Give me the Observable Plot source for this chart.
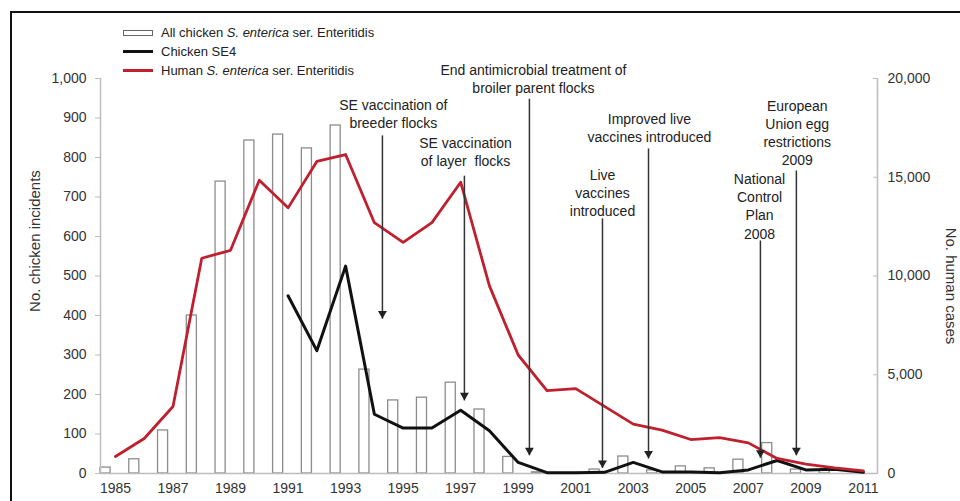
<!DOCTYPE html>
<html>
<head>
<meta charset="utf-8">
<script src="https://cdn.jsdelivr.net/npm/d3@7"></script>
<script src="https://cdn.jsdelivr.net/npm/@observablehq/plot@0.6"></script>
<style>
  body { margin: 0; background: #fff; font-family: "Liberation Sans", Arial, sans-serif; }
  #wrap { position: relative; width: 960px; height: 501px; overflow: hidden; background: #fff; }
  #chart { position: absolute; left: 0; top: 0; }
  #frame { position: absolute; left: 10px; top: 11px; width: 1000px; height: 600px;
           border-left: 2px solid #111; border-top: 2px solid #111; pointer-events: none; }
  #legend { position: absolute; left: 123px; top: 23px; font-size: 13px; color: #222; }
  .row { display: flex; align-items: center; height: 19px; white-space: nowrap; }
  .sw { width: 30px; margin-right: 8px; box-sizing: border-box; }
  .sw.bar { height: 6px; border: 1.3px solid #666; background: #fff; }
  .sw.line { height: 3px; }
</style>
</head>
<body>
<div id="wrap">
  <div id="chart"></div>
  <div id="legend">
    <div class="row"><div class="sw bar"></div><span>All chicken <i>S. enterica</i> ser. Enteritidis</span></div>
    <div class="row"><div class="sw line" style="background:#111"></div><span>Chicken SE4</span></div>
    <div class="row"><div class="sw line" style="background:#c0202e"></div><span>Human <i>S. enterica</i> ser. Enteritidis</span></div>
  </div>
  <div id="frame"></div>
</div>
<script>
// ---- data ----
const years = [1985, 1986, 1987, 1988, 1989, 1990, 1991, 1992, 1993, 1994, 1995, 1996, 1997, 1998,
               1999, 2000, 2001, 2002, 2003, 2004, 2005, 2006, 2007, 2008, 2009, 2010, 2011];
// All chicken S. enterica ser. Enteritidis incidents (left axis)
const chickenAll = [15, 36, 109, 400, 739, 843, 858, 823, 881, 263, 185, 192, 230, 162,
                    42, 3, 0, 10, 43, 8, 18, 13, 35, 77, 10, 8, 0];
// Chicken SE4 incidents (left axis)
const chickenSE4 = [null, null, null, null, null, null, 450, 311, 525, 150, 115, 115, 160, 108,
                    28, 2, 2, 3, 28, 4, 4, 2, 9, 33, 9, 11, 3];
// Human S. enterica ser. Enteritidis cases (right axis)
const humanCases = [860, 1770, 3390, 10900, 11300, 14850, 13450, 15800, 16150, 12700, 11700, 12700, 14750, 9500,
                    6000, 4200, 4300, 3400, 2500, 2200, 1720, 1820, 1550, 760, 480, 280, 130];

const xTickLabels = [1985, 1987, 1989, 1991, 1993, 1995, 1997, 1999, 2001, 2003, 2005, 2007, 2009, 2011];
const leftTicks = [0, 100, 200, 300, 400, 500, 600, 700, 800, 900, 1000];
const rightTickLabels = [0, 5000, 10000, 15000, 20000];
const humanPerIncident = 20; // 20,000 human cases on the right axis = 1,000 incidents on the left

const annotations = [
  {label: "SE vaccination of\nbreeder flocks", x: 1994.28, top: 856, tip: 392, tx: 1994.66, ty: 911},
  {label: "SE vaccination\nof layer  flocks", x: 1997.13, top: 754, tip: 185, tx: 1997.17, ty: 816},
  {label: "End antimicrobial treatment of\nbroiler parent flocks", x: 1999.39, top: 949, tip: 46, tx: 1999.53, ty: 1001},
  {label: "Live\nvaccines\nintroduced", x: 2001.93, top: 646, tip: 14, tx: 2001.93, ty: 713},
  {label: "Improved live\nvaccines introduced", x: 2003.53, top: 823, tip: 38, tx: 2003.56, ty: 877},
  {label: "National\nControl\nPlan\n2008", x: 2007.42, top: 590, tip: 40, tx: 2007.39, ty: 678},
  {label: "European\nUnion egg\nrestrictions\n2009", x: 2008.67, top: 767, tip: 46, tx: 2008.70, ty: 865}
];

const table = years.map((year, i) => ({year, all: chickenAll[i], se4: chickenSE4[i], human: humanCases[i]}));
const xDomain = [1984.48, 2011.49];
const font = '"Liberation Sans", Arial, sans-serif';

const chart = Plot.plot({
  width: 960,
  height: 501,
  marginLeft: 100,
  marginRight: 83,
  marginTop: 78,
  marginBottom: 28,
  style: {fontFamily: font, fontSize: "14px", color: "#333", background: "transparent"},
  x: {domain: xDomain},
  y: {domain: [0, 1000]},
  marks: [
    Plot.rect(table, {x1: d => d.year - 0.52, x2: d => d.year - 0.17, y1: 0, y2: "all",
                      fill: "white", stroke: "#8c8c8c", strokeWidth: 1.3}),
    Plot.ruleY([0], {stroke: "#bdbdbd", strokeWidth: 1.5}),
    Plot.ruleX(xDomain, {stroke: "#bdbdbd", strokeWidth: 1.5}),
    Plot.axisY({anchor: "left", ticks: leftTicks, tickFormat: d3.format(","), tickSize: 5, tickPadding: 9,
                stroke: "#bdbdbd", fill: "#333", label: null}),
    Plot.axisY({anchor: "right", ticks: rightTickLabels.map(v => v / humanPerIncident),
                tickFormat: d => d3.format(",")(d * humanPerIncident), tickSize: -5, tickPadding: 15,
                stroke: "#bdbdbd", fill: "#333", label: null}),
    Plot.axisX({anchor: "bottom", ticks: xTickLabels, tickFormat: d => String(d), tickSize: 0, tickPadding: 10,
                fill: "#333", label: null}),
    Plot.line(table, {x: "year", y: "se4", stroke: "#111", strokeWidth: 3, strokeLinejoin: "round"}),
    Plot.line(table, {x: "year", y: d => d.human / humanPerIncident, stroke: "#c0202e", strokeWidth: 2.8,
                      strokeLinejoin: "round"}),
    Plot.link(annotations, {x1: "x", x2: "x", y1: "top", y2: "tip", stroke: "#333", strokeWidth: 1.5}),
    Plot.dot(annotations, {x: "x", y: "tip", symbol: "triangle", r: 3.3, rotate: 180, fill: "#222",
                           stroke: "none", dy: -5}),
    Plot.text(annotations, {x: "tx", y: "ty", text: "label", textAnchor: "middle", lineAnchor: "middle",
                            lineHeight: 1.29, fontSize: 14, fill: "#222"}),
    Plot.text(["No. chicken incidents"], {frameAnchor: "left", dx: -65, dy: -35, rotate: -90,
                                          textAnchor: "middle", lineAnchor: "middle", fontSize: 15, fill: "#333"}),
    Plot.text(["No. human cases"], {frameAnchor: "right", dx: 73, dy: 10, rotate: 90,
                                    textAnchor: "middle", lineAnchor: "middle", fontSize: 15, fill: "#333"})
  ]
});
document.getElementById("chart").appendChild(chart);
</script>
</body>
</html>
